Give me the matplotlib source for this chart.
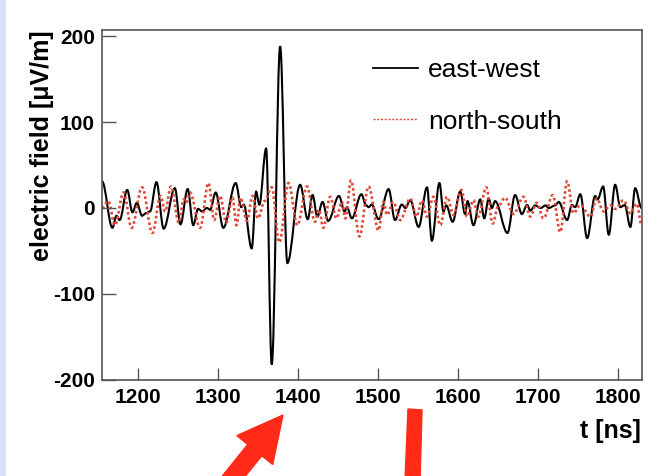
import matplotlib.pyplot as plt
from matplotlib.path import Path
from matplotlib.patches import PathPatch, FancyArrow, Polygon, Rectangle
from matplotlib.lines import Line2D
from matplotlib.transforms import IdentityTransform

plt.rcParams['font.family'] = ['Liberation Sans', 'DejaVu Sans']
plt.rcParams['axes.unicode_minus'] = False

# east-west polarisation: turning points of the trace (t in ns, E in uV/m)
ew_t = [1155, 1168, 1173, 1177, 1186.5, 1193, 1198.5, 1205, 1210, 1215,
        1223, 1232, 1246, 1253, 1262, 1269, 1275, 1280, 1286, 1290,
        1297, 1306.5, 1322, 1329, 1332, 1342, 1347.5, 1351.5, 1360, 1367,
        1377.5, 1386.5, 1402.5, 1412, 1418, 1424, 1430.5, 1437.5, 1451, 1458,
        1461, 1467, 1479, 1485, 1488, 1492, 1500.5, 1513, 1521, 1529.5,
        1534, 1540, 1550.5, 1561, 1567, 1576.5, 1581.5, 1585, 1593, 1602.5,
        1608.5, 1611.5, 1619, 1627.5, 1632.5, 1638, 1642, 1646, 1661.5, 1671,
        1679.5, 1686, 1690, 1696, 1703, 1709, 1713, 1721, 1725.5, 1736,
        1742, 1746, 1752.5, 1761, 1771, 1774, 1781, 1788, 1796, 1802.5,
        1808, 1815, 1821, 1829]
ew_v = [31, -23, -9, -14, 21, -5, 6, -9, -6, -4,
        30, -24, 23, -19, 22, -20, -1, -4, 0, -2,
        18, -23, 29, 1, 4, -47, 19, 4, 69, -182,
        188, -64, 27, -13, 15, -10, 7, -15, 14, -4,
        1, -12, 16, 3, 1, 4, -13, 22, -14, 4,
        0, 9, -22, 24, -38, 29, -4, 3, -16, 19,
        -7, 8, -20, 10, -12, 11, 0, 8, -29, 15,
        -7, 3.5, -3, 3, 0, 3, 0, 3, 7, -14,
        3.5, 1, 16, -35, 14, 10, 25, -31, 27, 1,
        3.5, -22, 23, 0]

# north-south polarisation
ns_t = [1155, 1163, 1171, 1182, 1192, 1205, 1218, 1228, 1234, 1241,
        1251, 1257, 1260, 1265, 1277.5, 1288, 1295, 1302.5, 1310, 1318,
        1323, 1328, 1336, 1343, 1350, 1358, 1367, 1376.5, 1388, 1399,
        1411, 1421, 1426, 1431.5, 1440, 1448, 1454.5, 1459, 1466, 1476.5,
        1488, 1500.5, 1506.5, 1511, 1519, 1527.5, 1540, 1548, 1554.5, 1561,
        1569, 1577.5, 1586, 1594, 1604, 1611, 1619, 1625, 1635, 1643,
        1650, 1658.5, 1669, 1681.5, 1690, 1698, 1706.5, 1718, 1727.5, 1736,
        1744, 1752.5, 1765, 1773, 1781.5, 1790, 1796, 1806.5, 1815, 1823,
        1829]
ns_v = [0, 8, -20, 18, -23, 24, -29, 14, -4, 25,
        -17, 10, 6, 18, -23, 29, -14, 14, -17, 12,
        -20, 12, -15, 14, -12, 8, 24, -40, 29, -20,
        25, -16, -2, -23, 13, -12, 7, -12, 32, -33,
        25, -26, 7, -8, 7, -14, 11, -10, 9, -10,
        13, -20, 13, -8, 21, -10, 9, -10, 24, -18,
        2, 12, -7, 13, -10, 6, -12, 15, -28, 31,
        -6, 3.5, -10, 11, -4, 3, -1, 9, -6, 5,
        -20]


def smooth_path(t, v, k=0.36):
    # cubic segments with flat tangents at every turning point
    verts = [(t[0], v[0])]
    codes = [Path.MOVETO]
    for i in range(len(t) - 1):
        dt = t[i + 1] - t[i]
        verts += [(t[i] + k * dt, v[i]), (t[i + 1] - k * dt, v[i + 1]),
                  (t[i + 1], v[i + 1])]
        codes += [Path.CURVE4] * 3
    return Path(verts, codes)


fig = plt.figure(figsize=(6.54, 4.76), dpi=100)
fig.patches.append(Rectangle((0, 0), 6, 476, transform=IdentityTransform(),
                             facecolor='#d6e3f7', edgecolor='none'))

ax = fig.add_axes([0.156, 0.2017, 0.825, 0.7353])

ew_color = 'black'
ns_color = '#e04a38'
ax.add_patch(PathPatch(smooth_path(ew_t, ew_v), fill=False,
                       edgecolor=ew_color, lw=1.5))
ax.add_patch(PathPatch(smooth_path(ns_t, ns_v), fill=False,
                       edgecolor=ns_color, lw=1.9, linestyle=(0, (1.0, 1.0))))

ax.set_xlim(1155, 1829)
ax.set_ylim(-200, 207)
ax.set_xticks(range(1200, 1801, 100))
ax.set_yticks(range(-200, 201, 100))
for s in ax.spines.values():
    s.set_color('#555555')
    s.set_linewidth(1.2)
ax.tick_params(axis='both', direction='in', colors='#555555', width=1.0,
               labelcolor='black', labelsize=15)
ax.tick_params(axis='y', length=10, pad=5)
ax.tick_params(axis='x', length=8.5, pad=6)
for lab in ax.get_xticklabels() + ax.get_yticklabels():
    lab.set_fontweight('bold')

fig.text(42 / 654, 1 - 30 / 476, 'electric field [μV/m]', rotation=90,
         ha='center', va='top', fontsize=18, fontweight='bold')
fig.text(641 / 654, 1 - 438 / 476, 't [ns]', ha='right', va='baseline',
         fontsize=18, fontweight='bold')

handles = [Line2D([], [], color=ew_color, lw=1.3),
           Line2D([], [], color=ns_color, lw=1.0, linestyle=(0, (1.5, 1.2)))]
ax.legend(handles, ['east-west', 'north-south'], loc='upper left',
          bbox_to_anchor=(373 / 654, 1 - 58 / 476),
          bbox_transform=fig.transFigure, frameon=False, fontsize=19,
          borderpad=0, borderaxespad=0, handlelength=1.7,
          handletextpad=0.38, labelspacing=1.05)

# red markers under the time axis
red = '#ff2a17'
tip_x, tip_y = 283, 476 - 415
tail_x, tail_y = 217, 476 - 497
fig.patches.append(FancyArrow(tail_x, tail_y, tip_x - tail_x, tip_y - tail_y,
                              width=18, head_width=46, head_length=45,
                              length_includes_head=True, color=red,
                              transform=IdentityTransform()))
fig.patches.append(Polygon([(408, 476 - 409), (422, 476 - 410),
                            (420, -5), (405, -5)], closed=True,
                           color=red, transform=IdentityTransform()))

fig.savefig('out.png', dpi=100)
